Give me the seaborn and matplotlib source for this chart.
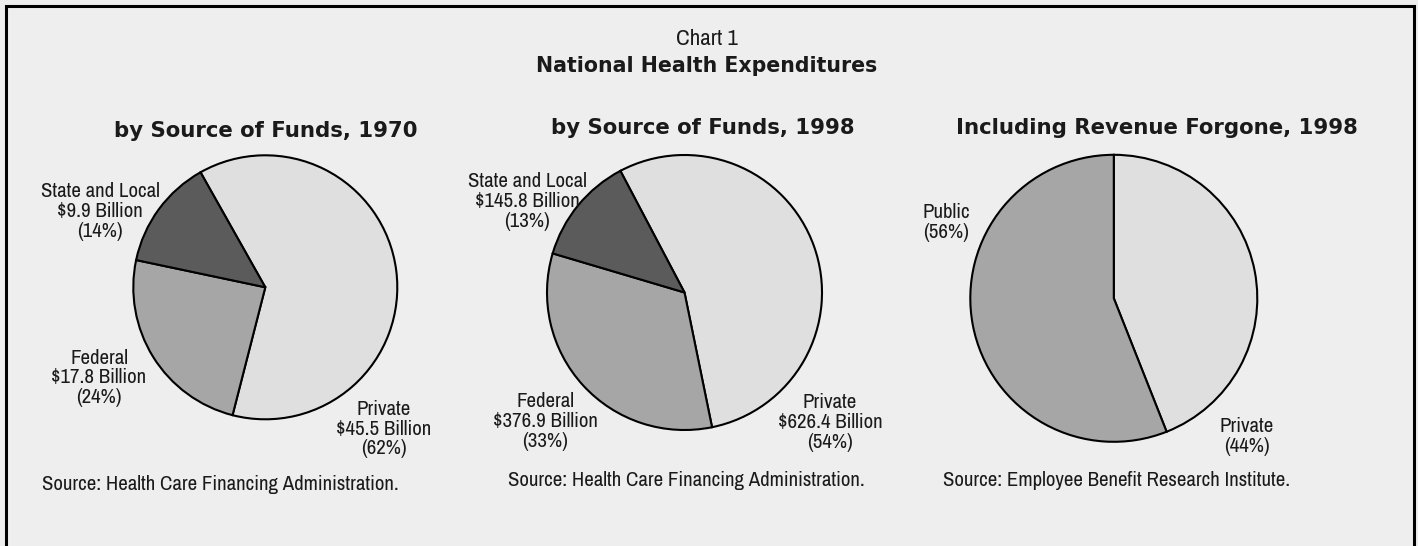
import matplotlib
matplotlib.use("Agg")
import matplotlib.pyplot as plt
from matplotlib.patches import Rectangle
import seaborn as sns

# --- data -----------------------------------------------------------------
sources_1970 = ["Private", "Federal", "State and Local"]
billions_1970 = [45.5, 17.8, 9.9]
pct_1970 = [62, 24, 14]

sources_1998 = ["Private", "Federal", "State and Local"]
billions_1998 = [626.4, 376.9, 145.8]
pct_1998 = [54, 33, 13]

sectors_forgone = ["Private", "Public"]
pct_forgone = [44, 56]

titles = ["by Source of Funds, 1970", "by Source of Funds, 1998",
          "Including Revenue Forgone, 1998"]
notes = ["Source: Health Care Financing Administration.",
         "Source: Health Care Financing Administration.",
         "Source: Employee Benefit Research Institute."]

# --- style ----------------------------------------------------------------
sns.set_theme(style="white")
plt.rcParams["font.family"] = ["Archivo Narrow", "DejaVu Sans"]
plt.rcParams["text.color"] = "#1a1a1a"

W, H = 1418, 546
BG = "#eeeeee"
shade = {"Private": "#dfdfdf", "Federal": "#a6a6a6",
         "State and Local": "#5b5b5b", "Public": "#a6a6a6"}
BOLD = ["DejaVu Sans"]
LABEL_FS = 15
SUB_FS = 15.3
TITLE_FS = 14.8
LS = 1.06

fig = plt.figure(figsize=(W / 100, H / 100), dpi=100, facecolor=BG)
ax = fig.add_axes([0, 0, 1, 1])
ax.set_facecolor(BG)


def Y(y):
    """Pixel row measured from the top -> data y."""
    return H - y


wedge_style = dict(edgecolor="black", linewidth=1.5)


def draw_pie(values, names, center, radius, start):
    ax.pie(values, colors=[shade[n] for n in names], center=center,
           radius=radius, startangle=start, counterclock=False,
           wedgeprops=wedge_style, frame=True)


# 1970 by source of funds
draw_pie(billions_1970, sources_1970, (265.3, Y(287.3)), 132, 119.4)
# 1998 by source of funds
draw_pie(billions_1998, sources_1998, (684.5, Y(292.5)), 137.5, 117.8)
# 1998 including revenue forgone
draw_pie(pct_forgone, sectors_forgone, (1113.8, Y(298.3)), 143.5, 90)

ax.set_xlim(0, W)
ax.set_ylim(0, H)
ax.set_aspect("auto")
ax.axis("off")

# outer frame (open at the bottom edge of the canvas)
ax.add_patch(Rectangle((5.5, -20), 1408, Y(6.2) + 20, fill=False,
                       lw=2.2, ec="black", clip_on=False))

# headings
ax.text(707, Y(45), "Chart 1", ha="center", va="baseline", fontsize=16.5)
ax.text(707, Y(71.5), "National Health Expenditures", ha="center",
        va="baseline", fontsize=TITLE_FS, fontweight="bold", family=BOLD)

# subtitles
ax.text(265.5, Y(136.7), titles[0], ha="center", va="baseline",
        fontsize=SUB_FS, fontweight="bold", family=BOLD)
ax.text(703, Y(134), titles[1], ha="center", va="baseline",
        fontsize=SUB_FS, fontweight="bold", family=BOLD)
ax.text(1156.7, Y(134), titles[2], ha="center", va="baseline",
        fontsize=SUB_FS, fontweight="bold", family=BOLD)


def money_label(name, val, pct):
    return f"{name}\n${val} Billion\n({pct}%)"


lab = dict(ha="center", va="center", fontsize=LABEL_FS, linespacing=LS)

# 1970 labels
pos_1970 = {"State and Local": (100, 211.7), "Federal": (99, 378),
            "Private": (384, 429)}
for n, v, p in zip(sources_1970, billions_1970, pct_1970):
    x, y = pos_1970[n]
    ax.text(x, Y(y), money_label(n, v, p), **lab)

# 1998 labels
pos_1998 = {"State and Local": (527, 201.7), "Federal": (545, 421.7),
            "Private": (830, 422.5)}
for n, v, p in zip(sources_1998, billions_1998, pct_1998):
    x, y = pos_1998[n]
    ax.text(x, Y(y), money_label(n, v, p), **lab)

# revenue-forgone labels
ax.text(923, Y(222.5), f"{sectors_forgone[1]}\n({pct_forgone[1]}%)",
        ha="left", va="center", fontsize=LABEL_FS, linespacing=LS)
ax.text(1246.5, Y(436.7), f"{sectors_forgone[0]}\n({pct_forgone[0]}%)",
        ha="center", va="center", fontsize=LABEL_FS, linespacing=LS)

# source notes
ax.text(42.5, Y(484), notes[0], ha="left", va="center", fontsize=LABEL_FS)
ax.text(508, Y(480), notes[1], ha="left", va="center", fontsize=LABEL_FS)
ax.text(943, Y(480), notes[2], ha="left", va="center", fontsize=LABEL_FS)

fig.savefig("out.png", dpi=100, facecolor=BG)
